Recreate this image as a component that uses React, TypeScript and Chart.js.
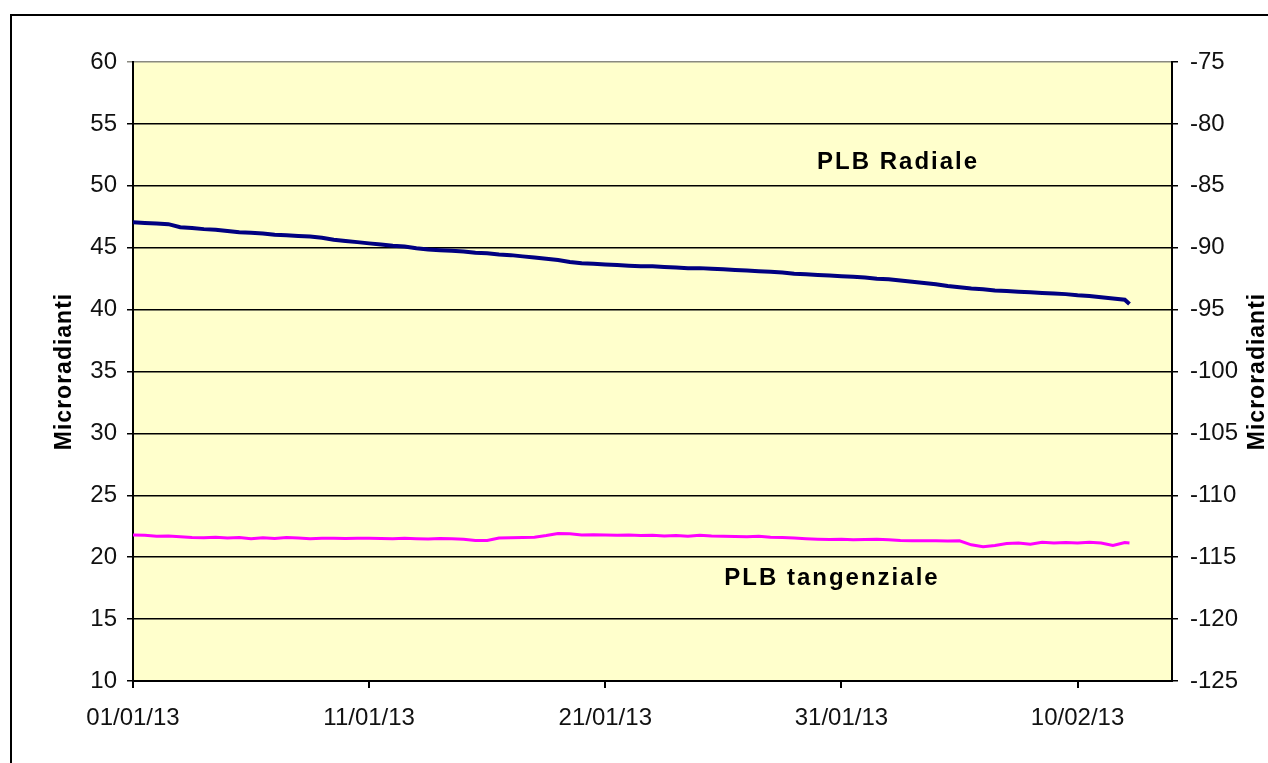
import React, { useEffect, useRef } from "react";
import { Chart, registerables } from "chart.js";

Chart.register(...registerables);

// Days since 01/01/13
const days = [
  0, 0.5, 1, 1.5, 2, 2.5, 3, 3.5, 4, 4.5,
  5, 5.5, 6, 6.5, 7, 7.5, 8, 8.5, 9, 9.5,
  10, 10.5, 11, 11.5, 12, 12.5, 13, 13.5, 14, 14.5,
  15, 15.5, 16, 16.5, 17, 17.5, 18, 18.5, 19, 19.5,
  20, 20.5, 21, 21.5, 22, 22.5, 23, 23.5, 24, 24.5,
  25, 25.5, 26, 26.5, 27, 27.5, 28, 28.5, 29, 29.5,
  30, 30.5, 31, 31.5, 32, 32.5, 33, 33.5, 34, 34.5,
  35, 35.5, 36, 36.5, 37, 37.5, 38, 38.5, 39, 39.5,
  40, 40.5, 41, 41.5, 42, 42.2,
];

const plbRadiale = [
  47.05, 47.0, 46.95, 46.9, 46.65, 46.6, 46.5, 46.45, 46.35, 46.25,
  46.2, 46.15, 46.05, 46.0, 45.95, 45.9, 45.8, 45.65, 45.55, 45.45,
  45.35, 45.25, 45.15, 45.1, 44.95, 44.85, 44.8, 44.75, 44.7, 44.6,
  44.55, 44.45, 44.4, 44.3, 44.2, 44.1, 44.0, 43.85, 43.75, 43.7,
  43.65, 43.6, 43.55, 43.5, 43.5, 43.45, 43.4, 43.35, 43.35, 43.3,
  43.25, 43.2, 43.15, 43.1, 43.05, 43.0, 42.9, 42.85, 42.8, 42.75,
  42.7, 42.65, 42.6, 42.5, 42.45, 42.35, 42.25, 42.15, 42.05, 41.9,
  41.8, 41.7, 41.65, 41.55, 41.5, 41.45, 41.4, 41.35, 41.3, 41.25,
  41.15, 41.1, 41.0, 40.9, 40.8, 40.45,
];

const plbTangenziale = [
  21.8, 21.78, 21.7, 21.72, 21.65, 21.6, 21.58, 21.62, 21.55, 21.6,
  21.5, 21.58, 21.52, 21.6, 21.55, 21.5, 21.53, 21.53, 21.52, 21.53,
  21.53, 21.52, 21.5, 21.53, 21.5, 21.48, 21.52, 21.5, 21.45, 21.35,
  21.35, 21.55, 21.58, 21.6, 21.62, 21.75, 21.92, 21.9, 21.8, 21.82,
  21.8, 21.78, 21.8, 21.75, 21.78, 21.72, 21.75, 21.7, 21.78, 21.72,
  21.7, 21.68, 21.65, 21.7, 21.62, 21.6, 21.55, 21.5, 21.45, 21.42,
  21.45, 21.4, 21.42, 21.45, 21.4, 21.35, 21.33, 21.32, 21.33, 21.3,
  21.32, 21.0, 20.85, 20.95, 21.1, 21.15, 21.05, 21.2, 21.15, 21.18,
  21.15, 21.2, 21.15, 20.95, 21.18, 21.15,
];

const xTickDays = [0, 10, 20, 30, 40];
const xTickLabels = ["01/01/13", "11/01/13", "21/01/13", "31/01/13", "10/02/13"];

const axisTitle = "Microradianti";
// annotation labels anchored in data coordinates [day, value]
const labelRadiale = { text: "PLB Radiale", day: 32.4, value: 51.9 };
const labelTangenziale = { text: "PLB tangenziale", day: 29.6, value: 18.3 };

const FONT = '"Liberation Sans", Arial, sans-serif';

export default function App() {
  const ref = useRef<HTMLCanvasElement | null>(null);

  useEffect(() => {
    const canvas = ref.current;
    if (!canvas) return;

    const bgPlugin = {
      id: "bg",
      beforeDraw(chart: any) {
        const { ctx, chartArea } = chart;
        ctx.save();
        ctx.fillStyle = "#ffffff";
        ctx.fillRect(0, 0, chart.width, chart.height);
        ctx.fillStyle = "#FFFFCC";
        ctx.fillRect(chartArea.left, chartArea.top, chartArea.right - chartArea.left, chartArea.bottom - chartArea.top);
        ctx.strokeStyle = "#000";
        ctx.lineWidth = 2;
        ctx.beginPath();
        ctx.moveTo(11, chart.height + 2);
        ctx.lineTo(11, 15);
        ctx.lineTo(chart.width + 2, 15);
        ctx.stroke();
        ctx.restore();
      },
    };

    const textPlugin = {
      id: "texts",
      afterDraw(chart: any) {
        const { ctx, scales, chartArea } = chart;
        ctx.save();
        ctx.fillStyle = "#000";
        ctx.textAlign = "center";
        ctx.textBaseline = "middle";
        ctx.font = `bold 24px ${FONT}`;
        (ctx as any).letterSpacing = "2px";
        for (const l of [labelRadiale, labelTangenziale]) {
          ctx.fillText(l.text, scales.x.getPixelForValue(l.day), scales.y.getPixelForValue(l.value));
        }
        (ctx as any).letterSpacing = "1px";
        ctx.font = `bold 23px ${FONT}`;
        const cy = (chartArea.top + chartArea.bottom) / 2;
        for (const cx of [65, 1258]) {
          ctx.save();
          ctx.translate(cx, cy);
          ctx.rotate(-Math.PI / 2);
          ctx.fillText(axisTitle, 0, 0);
          ctx.restore();
        }
        ctx.restore();
      },
    };

    const tickFont = { family: FONT, size: 24 };

    const chart = new Chart(canvas, {
      type: "line",
      data: {
        datasets: [
          {
            label: "PLB Radiale",
            data: days.map((d, i) => ({ x: d, y: plbRadiale[i] })),
            borderColor: "#000080",
            borderWidth: 4,
            pointRadius: 0,
            tension: 0,
            yAxisID: "y",
          },
          {
            label: "PLB tangenziale",
            data: days.map((d, i) => ({ x: d, y: plbTangenziale[i] })),
            borderColor: "#FF00FF",
            borderWidth: 3,
            pointRadius: 0,
            tension: 0,
            yAxisID: "y",
          },
        ],
      },
      options: {
        responsive: false,
        animation: false,
        layout: { padding: { top: 62, left: 0, right: 0, bottom: 0 } },
        plugins: { legend: { display: false }, tooltip: { enabled: false } },
        scales: {
          x: {
            type: "linear",
            min: 0,
            max: 44,
            afterBuildTicks: (s: any) => {
              s.ticks = xTickDays.map((v) => ({ value: v }));
            },
            afterFit: (s: any) => {
              s.height = 82;
            },
            ticks: {
              font: tickFont,
              color: "#111",
              padding: 16,
              maxRotation: 0,
              autoSkip: false,
              callback: (v: any) => {
                const i = xTickDays.indexOf(Number(v));
                return i >= 0 ? xTickLabels[i] : "";
              },
            },
            grid: { drawOnChartArea: false, drawTicks: true, tickLength: 7, color: "#000", lineWidth: 2 },
            border: { color: "#000", width: 2 },
          },
          y: {
            position: "left",
            min: 10,
            max: 60,
            afterFit: (s: any) => {
              s.width = 133;
            },
            ticks: { stepSize: 5, font: tickFont, color: "#111", padding: 10 },
            grid: {
              color: (c: any) => (c.tick && c.tick.value === 60 ? "#8a8a80" : "#000"),
              lineWidth: 1.5,
              tickLength: 6,
            },
            border: { color: "#000", width: 2 },
          },
          y1: {
            position: "right",
            min: -125,
            max: -75,
            afterFit: (s: any) => {
              s.width = 96;
            },
            ticks: { stepSize: 5, font: tickFont, color: "#111", padding: 12 },
            grid: { drawOnChartArea: false, tickLength: 6, color: "#000", lineWidth: 1.5 },
            border: { color: "#000", width: 2 },
          },
        },
      } as any,
      plugins: [bgPlugin, textPlugin],
    });

    return () => chart.destroy();
  }, []);

  return (
    <div style={{ position: "fixed", left: 0, top: 0, width: 1268, height: 763, background: "#fff" }}>
      <canvas ref={ref} width={1268} height={763} style={{ display: "block", width: 1268, height: 763 }} />
    </div>
  );
}
